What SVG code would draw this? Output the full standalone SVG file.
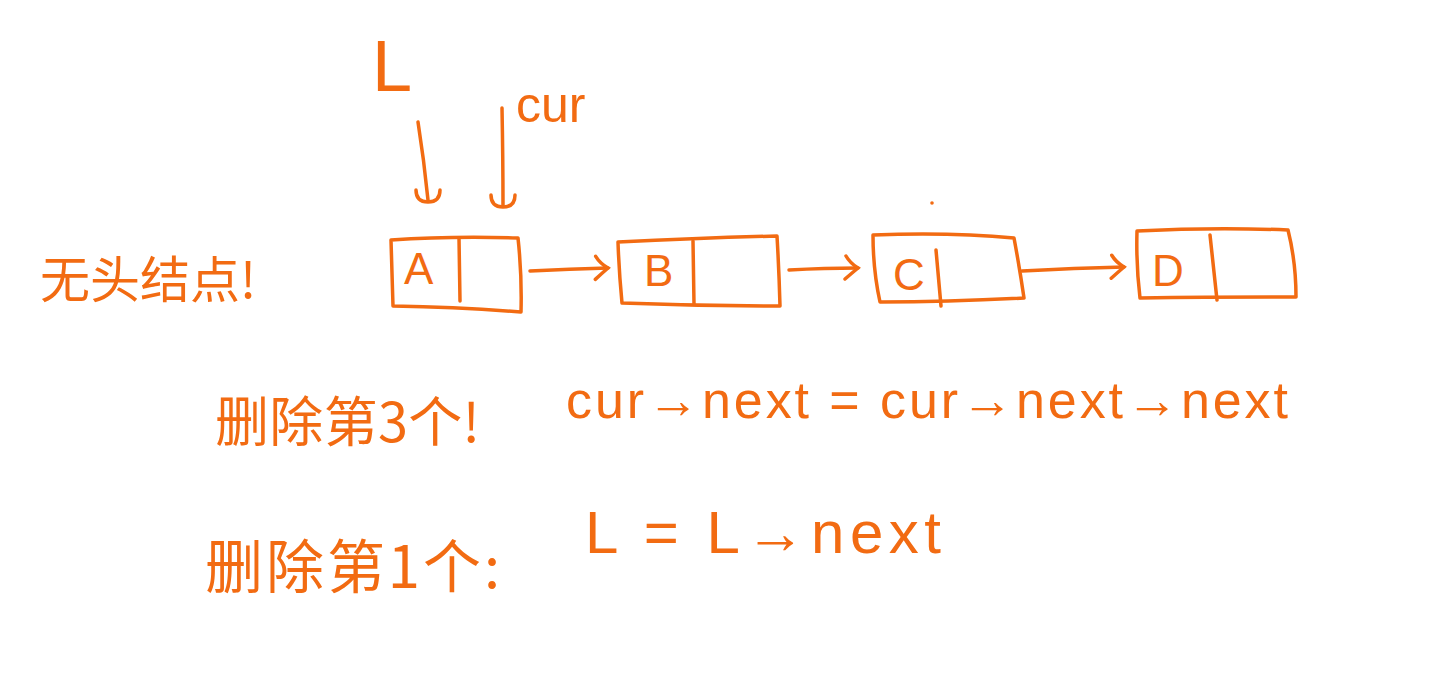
<svg xmlns="http://www.w3.org/2000/svg" width="1449" height="677" viewBox="0 0 1449 677">
<style>
.ink{fill:none;stroke:#F26B12;stroke-width:3.5;stroke-linecap:round;stroke-linejoin:round}
.t{fill:#F26B12;font-family:"Liberation Sans","Noto Sans CJK SC",sans-serif}
.cjk{fill:#F26B12;font-family:"Noto Sans CJK SC",sans-serif}
</style>
<defs>
<marker id="hv" markerWidth="34" markerHeight="30" refX="15" refY="15" markerUnits="userSpaceOnUse" orient="0">
<path d="M3,5 Q3,17 15,17 Q27,17 27,5" fill="none" stroke="#F26B12" stroke-width="3.5" stroke-linecap="round"/>
</marker>
<marker id="hh" markerWidth="30" markerHeight="30" refX="26" refY="15" markerUnits="userSpaceOnUse" orient="auto">
<path d="M14,3 Q18,10 26,15 Q20,20 13,26" fill="none" stroke="#F26B12" stroke-width="3.5" stroke-linecap="round"/>
</marker>
</defs>
<rect width="1449" height="677" fill="#ffffff"/>
<g id="label-L"><text class="t" x="372" y="91" font-size="72">L</text></g>
<g id="label-cur"><text class="t" x="516" y="122" font-size="50">cur</text></g>
<g id="label-nohead"><text class="cjk" x="40" y="298" font-size="50">无头结点!</text></g>
<g id="node-A">
<path class="ink" d="M391,240 Q450,236 518,238 Q522,275 521,312 Q460,307 393,306 Q392,272 391,240 Z"/>
<path class="ink" d="M459,238 L460,301"/>
<text class="t" x="404" y="284" font-size="44">A</text>
</g>
<g id="node-B">
<path class="ink" d="M618,242 Q700,238 777,236 Q779,270 780,306 Q700,306 622,303 Q619,272 618,242 Z"/>
<path class="ink" d="M693,241 L694,304"/>
<text class="t" x="644" y="286" font-size="44">B</text>
</g>
<g id="node-C">
<path class="ink" d="M873,235 Q950,232 1014,238 Q1020,270 1024,298 Q950,302 880,302 Q873,270 873,235 Z"/>
<path class="ink" d="M936,250 L941,306"/>
<text class="t" x="893" y="290" font-size="44">C</text>
</g>
<g id="node-D">
<path class="ink" d="M1137,231 Q1215,227 1288,230 Q1296,262 1296,297 Q1215,297 1140,298 Q1136,265 1137,231 Z"/>
<path class="ink" d="M1210,235 L1217,300"/>
<text class="t" x="1152" y="286" font-size="44">D</text>
</g>
<circle cx="932" cy="203" r="1.8" fill="#F26B12"/>
<g id="connectors">
<path class="ink" d="M418,122 Q424,160 428,200" marker-end="url(#hv)"/>
<path class="ink" d="M502,108 Q503,160 503,205" marker-end="url(#hv)"/>
<path class="ink" d="M530,271 Q570,269 608,268" marker-end="url(#hh)"/>
<path class="ink" d="M789,270 Q825,268 858,268" marker-end="url(#hh)"/>
<path class="ink" d="M1022,271 Q1075,268 1124,267" marker-end="url(#hh)"/>
</g>
<g id="label-del2"><text class="cjk" x="215" y="442" font-size="54" textLength="265" lengthAdjust="spacing">删除第3个!</text></g>
<g id="expr1"><text class="t" x="566" y="418" font-size="52" textLength="722" lengthAdjust="spacing">cur→next = cur→next→next</text></g>
<g id="label-del1"><text class="cjk" x="205" y="588" font-size="58" textLength="295" lengthAdjust="spacing">删除第1个:</text></g>
<g id="expr2"><text class="t" x="585" y="553" font-size="60" textLength="356" lengthAdjust="spacing">L = L→next</text></g>
</svg>
